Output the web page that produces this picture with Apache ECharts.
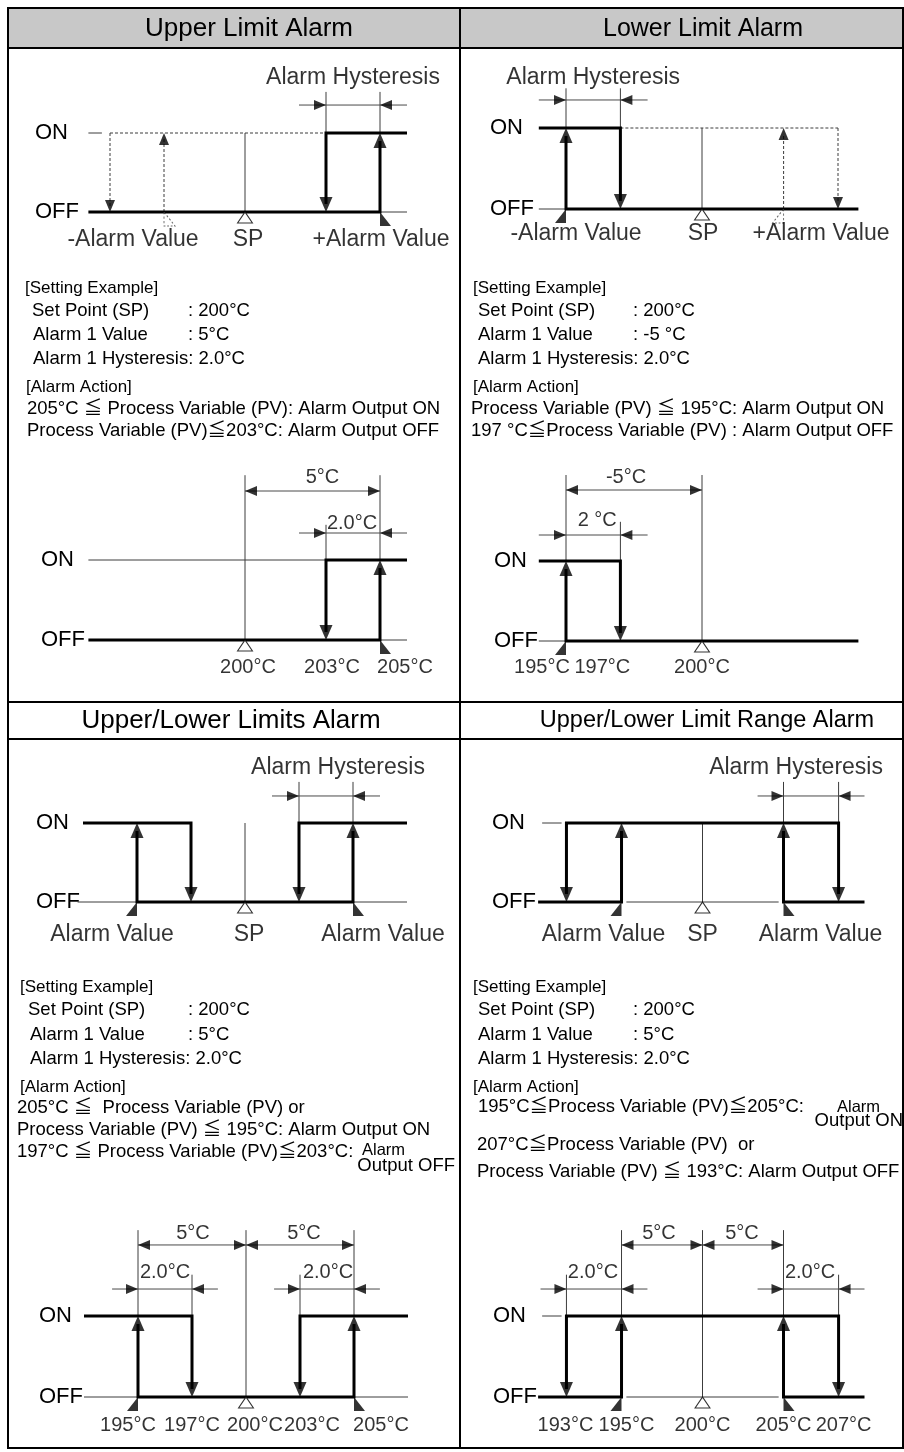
<!DOCTYPE html>
<html><head><meta charset="utf-8">
<script src="https://cdn.jsdelivr.net/npm/echarts@6/dist/echarts.min.js"></script>
<style>html,body{margin:0;padding:0;background:#fff}#c{width:904px;height:1452px}</style>
</head><body><div id="c"></div>
<script>
// ===================== DATA =====================
const panelTitles = ['Upper Limit Alarm', 'Lower Limit Alarm', 'Upper/Lower Limits Alarm', 'Upper/Lower Limit Range Alarm'];
const stateLabels = ['OFF', 'ON'];               // y = 0 / y = 1
const hysteresisLabel = 'Alarm Hysteresis';
const upperSchematicLabels = ['-Alarm Value', 'SP', '+Alarm Value'];
const lowerSchematicLabels = ['-Alarm Value', 'SP', '+Alarm Value'];
const limitsSchematicLabels = ['Alarm Value', 'SP', 'Alarm Value'];
const rangeSchematicLabels = ['Alarm Value', 'SP', 'Alarm Value'];

// Schematic switching points, in °C as drawn (line start, ..., line end)
const upperSchematicX = [194.2, 195, 197, 200, 203, 205, 206];     // start, -AV off, -AV on, SP, +AV off, +AV on, end
const lowerSchematicX = [194, 195, 197, 200, 203, 205, 205.75];     // start, -AV on, -AV off, SP, +AV on, +AV off, end
const limitsSchematicX = [192.5, 195, 197.5, 200, 202.5, 205, 207.5]; // start, low on, low off, SP, high off, high on, end
const rangeSchematicX = [189.85, 191.6, 195, 200, 205, 208.4, 210];  // start, low off, low on, SP, high on, high off, end

// Setting-example diagrams
const upperExampleX = [200, 203, 205];            // SP, OFF point, ON point
const upperExampleSpan = [194.2, 206];
const upperExampleLabels = ['200°C', '203°C', '205°C'];
const upperExampleDims = ['5°C', '2.0°C'];

const lowerExampleX = [195, 197, 200];            // ON point, OFF point, SP
const lowerExampleSpan = [194, 205.75];
const lowerExampleLabels = ['195°C', '197°C', '200°C'];
const lowerExampleDims = ['-5°C', '2 °C'];

const limitsExampleX = [195, 197.5, 200, 202.5, 205];   // positions as drawn (figure not to scale)
const limitsExampleSpan = [192.5, 207.5];
const limitsExampleLabels = ['195°C', '197°C', '200°C', '203°C', '205°C'];
const limitsExampleDims = ['5°C', '5°C', '2.0°C', '2.0°C'];

const rangeExampleX = [191.6, 195, 200, 205, 208.4];    // positions as drawn (figure not to scale)
const rangeExampleSpan = [189.85, 210];
const rangeExampleLabels = ['193°C', '195°C', '200°C', '205°C', '207°C'];
const rangeExampleDims = ['5°C', '5°C', '2.0°C', '2.0°C'];

// Setting-example texts
const settingText1 = ['[Setting Example]', 'Set Point (SP)', ': 200°C', 'Alarm 1 Value', ': 5°C', 'Alarm 1 Hysteresis: 2.0°C',
  '[Alarm Action]', '205°C ≦ Process Variable (PV): Alarm Output ON', 'Process Variable (PV)≦203°C: Alarm Output OFF'];
const settingText2 = ['[Setting Example]', 'Set Point (SP)', ': 200°C', 'Alarm 1 Value', ': -5 °C', 'Alarm 1 Hysteresis: 2.0°C',
  '[Alarm Action]', 'Process Variable (PV) ≦ 195°C: Alarm Output ON', '197 °C≦Process Variable (PV) : Alarm Output OFF'];
const settingText3 = ['[Setting Example]', 'Set Point (SP)', ': 200°C', 'Alarm 1 Value', ': 5°C', 'Alarm 1 Hysteresis: 2.0°C',
  '[Alarm Action]', '205°C ≦  Process Variable (PV) or', 'Process Variable (PV) ≦ 195°C: Alarm Output ON',
  '197°C ≦ Process Variable (PV)≦203°C:', 'Alarm', 'Output OFF'];
const settingText4 = ['[Setting Example]', 'Set Point (SP)', ': 200°C', 'Alarm 1 Value', ': 5°C', 'Alarm 1 Hysteresis: 2.0°C',
  '[Alarm Action]', '195°C≦Process Variable (PV)≦205°C:', 'Alarm', 'Output ON',
  '207°C≦Process Variable (PV)  or', 'Process Variable (PV) ≦ 193°C: Alarm Output OFF'];

// ===================== LAYOUT / STYLE =====================
const FONT = "'Liberation Sans', 'Noto Sans CJK JP', Arial, Helvetica, sans-serif";
const INK = '#000', THIN = '#3c3c3c', DIM = '#4a4a4a';
const SZ = { diag: 23, state: 22, temp: 20, dim: 20, head: 17, text: 18.5, small: 16.5 };
const titleSizes = [26, 25, 26, 23.5];

const LAYOUT = {
  A: { l: 88.4, r: 407, on: 133, off: 212, labelX: 35, hTop: 1.52, hY: 1.354, ext: 1 },
  B: { l: 538.8, r: 858.4, on: 128, off: 209, labelX: 490, hTop: 1.49, hY: 1.346, ext: 1 },
  C: { l: 88.4, r: 407, on: 560, off: 640, labelX: 41, top5: 2.06, hTop: 1.44, sY: 1.8625, hY: 1.3375, ext: 1 },
  D: { l: 538.8, r: 858.4, on: 561, off: 641, labelX: 494, top5: 2.075, hTop: 1.49, sY: 1.8875, hY: 1.325, ext: 1 },
  E: { l: 83, r: 407, on: 823, off: 902, labelX: 36, hTop: 1.52, hY: 1.342, ext: 1.25 },
  F: { l: 538.1, r: 864.5, on: 823, off: 902, labelX: 492, hTop: 1.52, hY: 1.342, ext: 1.6 },
  G: { l: 84, r: 408, on: 1316, off: 1397, labelX: 39, top5: 2.06, hTop: 1.51, sY: 1.877, hY: 1.333, ext: 1.2 },
  H: { l: 538.1, r: 864.5, on: 1316, off: 1397, labelX: 493, top5: 2.06, hTop: 1.51, sY: 1.877, hY: 1.333, ext: 1.6 }
};

const grids = [], xAxes = [], yAxes = [], series = [];

function makeDiagram(L, min, max) {
  const i = grids.length;
  grids.push({ left: L.l, top: L.on, width: L.r - L.l, height: L.off - L.on, containLabel: false });
  xAxes.push({ type: 'value', gridIndex: i, min: min, max: max, show: false });
  yAxes.push({ type: 'value', gridIndex: i, min: 0, max: 1, interval: 1,
    axisLine: { show: false }, axisTick: { show: false }, splitLine: { show: false },
    axisLabel: { formatter: v => stateLabels[v], align: 'left', margin: L.l - L.labelX,
      fontSize: SZ.state, color: INK, fontFamily: FONT } });
  const h = L.off - L.on;
  return { i, L, gap: 8 / h, sgap: 6 / h, thin: [], thick: [], dashed: [], dim: [], marks: [], labels: [] };
}
const seg = (...pts) => ({ coords: pts });
function head(x, y, dir, kind) {
  const s = kind === 'dim' ? [10, 12] : kind === 'dash' ? [10, 12] : [13, 15];
  const hl = s[1] / 2;
  const rot = { up: 0, down: 180, left: 90, right: -90 }[dir];
  const off = { up: [0, hl], down: [0, -hl], left: [hl, 0], right: [-hl, 0] }[dir];
  return { value: [x, y], symbol: 'triangle', symbolSize: s, symbolRotate: rot, symbolOffset: off, itemStyle: { color: INK } };
}
function spTri(x) {
  return { value: [x, 0], symbol: 'triangle', symbolSize: [15, 11], symbolOffset: [0, 5.5],
    itemStyle: { color: '#fff', borderColor: INK, borderWidth: 1 } };
}
function half(x, side, dashed) { // side 'R': vertical edge on the left (◣); 'L': vertical edge on right (◢)
  const path = side === 'R' ? 'path://M0,0L0,13L10,13Z' : 'path://M10,0L10,13L0,13Z';
  return { value: [x, 0], symbol: path, symbolSize: [11, 14], symbolOffset: [side === 'R' ? 5.5 : -5.5, 7],
    itemStyle: dashed ? { color: 'rgba(0,0,0,0)', borderColor: THIN, borderWidth: 1, borderType: [2, 2] } : { color: INK } };
}
function dashedArrow(d, x, y0, y1) {
  const up = y1 > y0;
  d.dashed.push(seg([x, y0], [x, up ? y1 - d.sgap : y1 + d.sgap]));
  d.marks.push(head(x, y1, up ? 'up' : 'down', 'dash'));
}
function hystDim(d, a, b) {
  d.dim.push(seg([a - d.L.ext, d.L.hY], [b + d.L.ext, d.L.hY]));
  d.marks.push(head(a, d.L.hY, 'right', 'dim'), head(b, d.L.hY, 'left', 'dim'));
}
function spanDim(d, a, b) {
  d.dim.push(seg([a, d.L.sY], [b, d.L.sY]));
  d.marks.push(head(a, d.L.sY, 'left', 'dim'), head(b, d.L.sY, 'right', 'dim'));
}
function lab(d, text, x, y, dx, dy, size) {
  d.labels.push({ name: text, value: [x, y], label: { offset: [dx, dy], fontSize: size } });
}
function flush(d) {
  const base = { coordinateSystem: 'cartesian2d', xAxisIndex: d.i, yAxisIndex: d.i, silent: true, animation: false };
  series.push(Object.assign({}, base, { type: 'lines', polyline: true, clip: false, z: 2, lineStyle: { color: THIN, width: 1, opacity: 1 }, data: d.thin }));
  series.push(Object.assign({}, base, { type: 'lines', polyline: true, clip: false, z: 2, lineStyle: { color: THIN, width: 1, type: [3, 2], opacity: 1 }, data: d.dashed }));
  series.push(Object.assign({}, base, { type: 'lines', polyline: true, clip: false, z: 2, lineStyle: { color: DIM, width: 1, opacity: 1 }, data: d.dim }));
  series.push(Object.assign({}, base, { type: 'lines', polyline: true, clip: false, z: 3, lineStyle: { color: INK, width: 3, join: 'miter', opacity: 1 }, data: d.thick }));
  series.push(Object.assign({}, base, { type: 'scatter', clip: false, z: 4, data: d.marks }));
  series.push(Object.assign({}, base, { type: 'scatter', clip: false, z: 5, symbolSize: 1, itemStyle: { color: 'rgba(0,0,0,0)' },
    label: { show: true, position: 'inside', formatter: '{b}', color: INK, fontFamily: FONT }, data: d.labels }));
}
const mid = (a, b) => (a + b) / 2;

// ---------- A: Upper limit schematic ----------
(function () {
  const [start, nOff, nOn, sp, off, on, end] = upperSchematicX;
  const d = makeDiagram(LAYOUT.A, start, end);
  d.thin.push(seg([start, 1], [start + 0.5, 1]), seg([sp, 0], [sp, 1]), seg([on, 0], [end, 0]),
    seg([off, 1], [off, d.L.hTop]), seg([on, 1], [on, d.L.hTop]));
  d.dashed.push(seg([nOff, 1], [off, 1]));
  dashedArrow(d, nOff, 1, 0); dashedArrow(d, nOn, 0, 1);
  d.thick.push(seg([start, 0], [on, 0], [on, 1 - d.gap]), seg([end, 1], [off, 1], [off, d.gap]));
  d.marks.push(head(on, 1, 'up'), head(off, 0, 'down'));
  hystDim(d, off, on);
  d.marks.push(spTri(sp), half(on, 'R'), half(nOn, 'R', true));
  lab(d, hysteresisLabel, mid(off, on), 1, 0, -55, SZ.diag);
  lab(d, upperSchematicLabels[0], nOn, 0, -31, 28, SZ.diag);
  lab(d, upperSchematicLabels[1], sp, 0, 3, 28, SZ.diag);
  lab(d, upperSchematicLabels[2], on, 0, 1, 28, SZ.diag);
  flush(d);
})();

// ---------- B: Lower limit schematic ----------
(function () {
  const [start, on, off, sp, nOn, nOff, end] = lowerSchematicX;
  const d = makeDiagram(LAYOUT.B, start, end);
  d.thin.push(seg([start, 0], [on, 0]), seg([sp, 0], [sp, 1]), seg([on, 1], [on, d.L.hTop]), seg([off, 1], [off, d.L.hTop]));
  d.dashed.push(seg([off, 1], [nOff, 1]));
  dashedArrow(d, nOn, 0, 1); dashedArrow(d, nOff, 1, 0);
  d.thick.push(seg([start, 1], [off, 1], [off, d.gap]), seg([end, 0], [on, 0], [on, 1 - d.gap]));
  d.marks.push(head(off, 0, 'down'), head(on, 1, 'up'));
  hystDim(d, on, off);
  d.marks.push(spTri(sp), half(on, 'L'), half(nOn, 'L', true));
  lab(d, hysteresisLabel, mid(on, off), 1, 0, -50, SZ.diag);
  lab(d, lowerSchematicLabels[0], on, 0, 10, 25, SZ.diag);
  lab(d, lowerSchematicLabels[1], sp, 0, 1, 25, SZ.diag);
  lab(d, lowerSchematicLabels[2], nOff, 0, -17, 25, SZ.diag);
  flush(d);
})();

// ---------- C: Upper limit example ----------
(function () {
  const [sp, off, on] = upperExampleX;
  const [start, end] = upperExampleSpan;
  const d = makeDiagram(LAYOUT.C, start, end);
  d.thin.push(seg([start, 1], [off, 1]), seg([on, 0], [end, 0]), seg([sp, 0], [sp, d.L.top5]),
    seg([on, 1], [on, d.L.top5]), seg([off, 1], [off, d.L.hTop]));
  spanDim(d, sp, on); hystDim(d, off, on);
  d.thick.push(seg([start, 0], [on, 0], [on, 1 - d.gap]), seg([end, 1], [off, 1], [off, d.gap]));
  d.marks.push(head(on, 1, 'up'), head(off, 0, 'down'), spTri(sp), half(on, 'R'));
  lab(d, upperExampleDims[0], mid(sp, on), 1, 10, -83, SZ.dim);
  lab(d, upperExampleDims[1], mid(off, on), 1, -1, -37, SZ.dim);
  const dx = [3, 6, 25];
  upperExampleX.forEach((x, k) => lab(d, upperExampleLabels[k], x, 0, dx[k], 27, SZ.temp));
  flush(d);
})();

// ---------- D: Lower limit example ----------
(function () {
  const [on, off, sp] = lowerExampleX;
  const [start, end] = lowerExampleSpan;
  const d = makeDiagram(LAYOUT.D, start, end);
  d.thin.push(seg([start, 0], [on, 0]), seg([on, 1], [on, d.L.top5]), seg([sp, 0], [sp, d.L.top5]), seg([off, 1], [off, d.L.hTop]));
  spanDim(d, on, sp); hystDim(d, on, off);
  d.thick.push(seg([start, 1], [off, 1], [off, d.gap]), seg([end, 0], [on, 0], [on, 1 - d.gap]));
  d.marks.push(head(off, 0, 'down'), head(on, 1, 'up'), spTri(sp), half(on, 'L'));
  lab(d, lowerExampleDims[0], mid(on, sp), 1, -8, -84, SZ.dim);
  lab(d, lowerExampleDims[1], mid(on, off), 1, 4, -41, SZ.dim);
  const dx = [-24, -18, 0];
  lowerExampleX.forEach((x, k) => lab(d, lowerExampleLabels[k], x, 0, dx[k], 26, SZ.temp));
  flush(d);
})();

// ---------- E: Upper/lower limits schematic ----------
(function () {
  const [start, lOn, lOff, sp, uOff, uOn, end] = limitsSchematicX;
  const d = makeDiagram(LAYOUT.E, start, end);
  d.thin.push(seg([start - 0.25, 0], [lOn, 0]), seg([uOn, 0], [end, 0]), seg([sp, 0], [sp, 1]),
    seg([uOff, 1], [uOff, d.L.hTop]), seg([uOn, 1], [uOn, d.L.hTop]));
  d.thick.push(seg([start, 1], [lOff, 1], [lOff, d.gap]), seg([lOn, 1 - d.gap], [lOn, 0], [uOn, 0], [uOn, 1 - d.gap]),
    seg([end, 1], [uOff, 1], [uOff, d.gap]));
  d.marks.push(head(lOff, 0, 'down'), head(lOn, 1, 'up'), head(uOn, 1, 'up'), head(uOff, 0, 'down'));
  hystDim(d, uOff, uOn);
  d.marks.push(spTri(sp), half(lOn, 'L'), half(uOn, 'R'));
  lab(d, hysteresisLabel, mid(uOff, uOn), 1, 12, -55, SZ.diag);
  lab(d, limitsSchematicLabels[0], lOn, 0, -25, 33, SZ.diag);
  lab(d, limitsSchematicLabels[1], sp, 0, 4, 33, SZ.diag);
  lab(d, limitsSchematicLabels[2], uOn, 0, 30, 33, SZ.diag);
  flush(d);
})();

// ---------- F: Upper/lower limit range schematic ----------
(function () {
  const [start, lOff, lOn, sp, uOn, uOff, end] = rangeSchematicX;
  const d = makeDiagram(LAYOUT.F, start, end);
  d.thin.push(seg([start + 0.25, 1], [lOff - 0.3, 1]), seg([lOn + 0.3, 0], [uOn - 0.3, 0]), seg([sp, 0], [sp, 1]),
    seg([uOn, 1], [uOn, d.L.hTop]), seg([uOff, 1], [uOff, d.L.hTop]));
  d.thick.push(seg([lOff, d.gap], [lOff, 1], [uOff, 1], [uOff, d.gap]), seg([start, 0], [lOn, 0], [lOn, 1 - d.gap]),
    seg([end, 0], [uOn, 0], [uOn, 1 - d.gap]));
  d.marks.push(head(lOff, 0, 'down'), head(uOff, 0, 'down'), head(lOn, 1, 'up'), head(uOn, 1, 'up'));
  hystDim(d, uOn, uOff);
  d.marks.push(spTri(sp), half(lOn, 'L'), half(uOn, 'R'));
  lab(d, hysteresisLabel, mid(uOn, uOff), 1, -15, -55, SZ.diag);
  lab(d, rangeSchematicLabels[0], lOn, 0, -18, 33, SZ.diag);
  lab(d, rangeSchematicLabels[1], sp, 0, 0, 33, SZ.diag);
  lab(d, rangeSchematicLabels[2], uOn, 0, 37, 33, SZ.diag);
  flush(d);
})();

// ---------- G: Upper/lower limits example ----------
(function () {
  const [lOn, lOff, sp, uOff, uOn] = limitsExampleX;
  const [start, end] = limitsExampleSpan;
  const d = makeDiagram(LAYOUT.G, start, end);
  d.thin.push(seg([start, 0], [lOn, 0]), seg([uOn, 0], [end, 0]), seg([lOn, 1], [lOn, d.L.top5]), seg([sp, 0], [sp, d.L.top5]),
    seg([uOn, 1], [uOn, d.L.top5]), seg([lOff, 1], [lOff, d.L.hTop]), seg([uOff, 1], [uOff, d.L.hTop]));
  spanDim(d, lOn, sp); spanDim(d, sp, uOn);
  hystDim(d, lOn, lOff); hystDim(d, uOff, uOn);
  d.thick.push(seg([start, 1], [lOff, 1], [lOff, d.gap]), seg([lOn, 1 - d.gap], [lOn, 0], [uOn, 0], [uOn, 1 - d.gap]),
    seg([end, 1], [uOff, 1], [uOff, d.gap]));
  d.marks.push(head(lOff, 0, 'down'), head(lOn, 1, 'up'), head(uOn, 1, 'up'), head(uOff, 0, 'down'));
  d.marks.push(spTri(sp), half(lOn, 'L'), half(uOn, 'R'));
  lab(d, limitsExampleDims[0], mid(lOn, sp), 1, 1, -83, SZ.dim);
  lab(d, limitsExampleDims[1], mid(sp, uOn), 1, 4, -83, SZ.dim);
  lab(d, limitsExampleDims[2], mid(lOn, lOff), 1, 0, -44, SZ.dim);
  lab(d, limitsExampleDims[3], mid(uOff, uOn), 1, 1, -44, SZ.dim);
  const dx = [-10, 0, 9, 12, 27];
  limitsExampleX.forEach((x, k) => lab(d, limitsExampleLabels[k], x, 0, dx[k], 28, SZ.temp));
  flush(d);
})();

// ---------- H: Upper/lower limit range example ----------
(function () {
  const [lOff, lOn, sp, uOn, uOff] = rangeExampleX;
  const [start, end] = rangeExampleSpan;
  const d = makeDiagram(LAYOUT.H, start, end);
  d.thin.push(seg([start + 0.25, 1], [lOff - 0.3, 1]), seg([lOn + 0.3, 0], [uOn - 0.3, 0]),
    seg([lOn, 1], [lOn, d.L.top5]), seg([sp, 0], [sp, d.L.top5]), seg([uOn, 1], [uOn, d.L.top5]),
    seg([lOff, 1], [lOff, d.L.hTop]), seg([uOff, 1], [uOff, d.L.hTop]));
  spanDim(d, lOn, sp); spanDim(d, sp, uOn);
  hystDim(d, lOff, lOn); hystDim(d, uOn, uOff);
  d.thick.push(seg([lOff, d.gap], [lOff, 1], [uOff, 1], [uOff, d.gap]), seg([start, 0], [lOn, 0], [lOn, 1 - d.gap]),
    seg([end, 0], [uOn, 0], [uOn, 1 - d.gap]));
  d.marks.push(head(lOff, 0, 'down'), head(uOff, 0, 'down'), head(lOn, 1, 'up'), head(uOn, 1, 'up'));
  d.marks.push(spTri(sp), half(lOn, 'L'), half(uOn, 'R'));
  lab(d, rangeExampleDims[0], mid(lOn, sp), 1, -3, -83, SZ.dim);
  lab(d, rangeExampleDims[1], mid(sp, uOn), 1, -1, -83, SZ.dim);
  lab(d, rangeExampleDims[2], mid(lOff, lOn), 1, -1, -44, SZ.dim);
  lab(d, rangeExampleDims[3], mid(uOn, uOff), 1, -1, -44, SZ.dim);
  const dx = [-1, 5, 0, 0, 5];
  rangeExampleX.forEach((x, k) => lab(d, rangeExampleLabels[k], x, 0, dx[k], 28, SZ.temp));
  flush(d);
})();

// ===================== TABLE & TEXT (graphic) =====================
const graphic = [];
graphic.push({ type: 'rect', z: -10, shape: { x: 8, y: 8, width: 896, height: 40 }, style: { fill: '#c8c8c8' } });
const hLines = [8, 48, 702, 739, 1448];
hLines.forEach(y => graphic.push({ type: 'line', z: 10, shape: { x1: 7, y1: y, x2: 904, y2: y }, style: { stroke: INK, lineWidth: 2 } }));
[8, 460, 903].forEach(x => graphic.push({ type: 'line', z: 10, shape: { x1: x, y1: 7, x2: x, y2: 1449 }, style: { stroke: INK, lineWidth: 2 } }));

const titlePos = [[249, 29], [703, 29], [231, 721], [707, 721]];
panelTitles.forEach((t, k) => graphic.push({ type: 'text', z: 11, x: titlePos[k][0], y: titlePos[k][1],
  style: { text: t, fontSize: titleSizes[k], fontFamily: FONT, fill: INK, align: 'center', verticalAlign: 'middle' } }));

// [x, y, fontKey, align]
const textPos1 = [[25, 288, 'head'], [32, 311], [188, 311], [33, 335], [188, 335], [33, 359], [26, 387, 'head'], [27, 409], [27, 431]];
const textPos2 = [[473, 288, 'head'], [478, 311], [633, 311], [478, 335], [633, 335], [478, 359], [473, 387, 'head'], [471, 409], [471, 431]];
const textPos3 = [[20, 987, 'head'], [28, 1010], [188, 1010], [30, 1035], [188, 1035], [30, 1059], [20, 1087, 'head'], [17, 1108], [17, 1130],
  [17, 1152], [362, 1150, 'small'], [455, 1166, 'text', 'right']];
const textPos4 = [[473, 987, 'head'], [478, 1010], [633, 1010], [478, 1035], [633, 1035], [478, 1059], [473, 1087, 'head'], [478, 1107],
  [837, 1107, 'small'], [903, 1121, 'text', 'right'], [477, 1145], [477, 1172]];
[[settingText1, textPos1], [settingText2, textPos2], [settingText3, textPos3], [settingText4, textPos4]].forEach(([txt, pos]) => {
  txt.forEach((t, k) => graphic.push({ type: 'text', z: 11, x: pos[k][0], y: pos[k][1],
    style: { text: t, fontSize: SZ[pos[k][2] || 'text'], fontFamily: FONT, fill: INK, align: pos[k][3] || 'left', verticalAlign: 'middle' } }));
});

const chart = echarts.init(document.getElementById('c'), null, { renderer: 'canvas' });
chart.setOption({
  animation: false,
  backgroundColor: '#fff',
  grid: grids, xAxis: xAxes, yAxis: yAxes, series: series,
  graphic: graphic
});
</script></body></html>
